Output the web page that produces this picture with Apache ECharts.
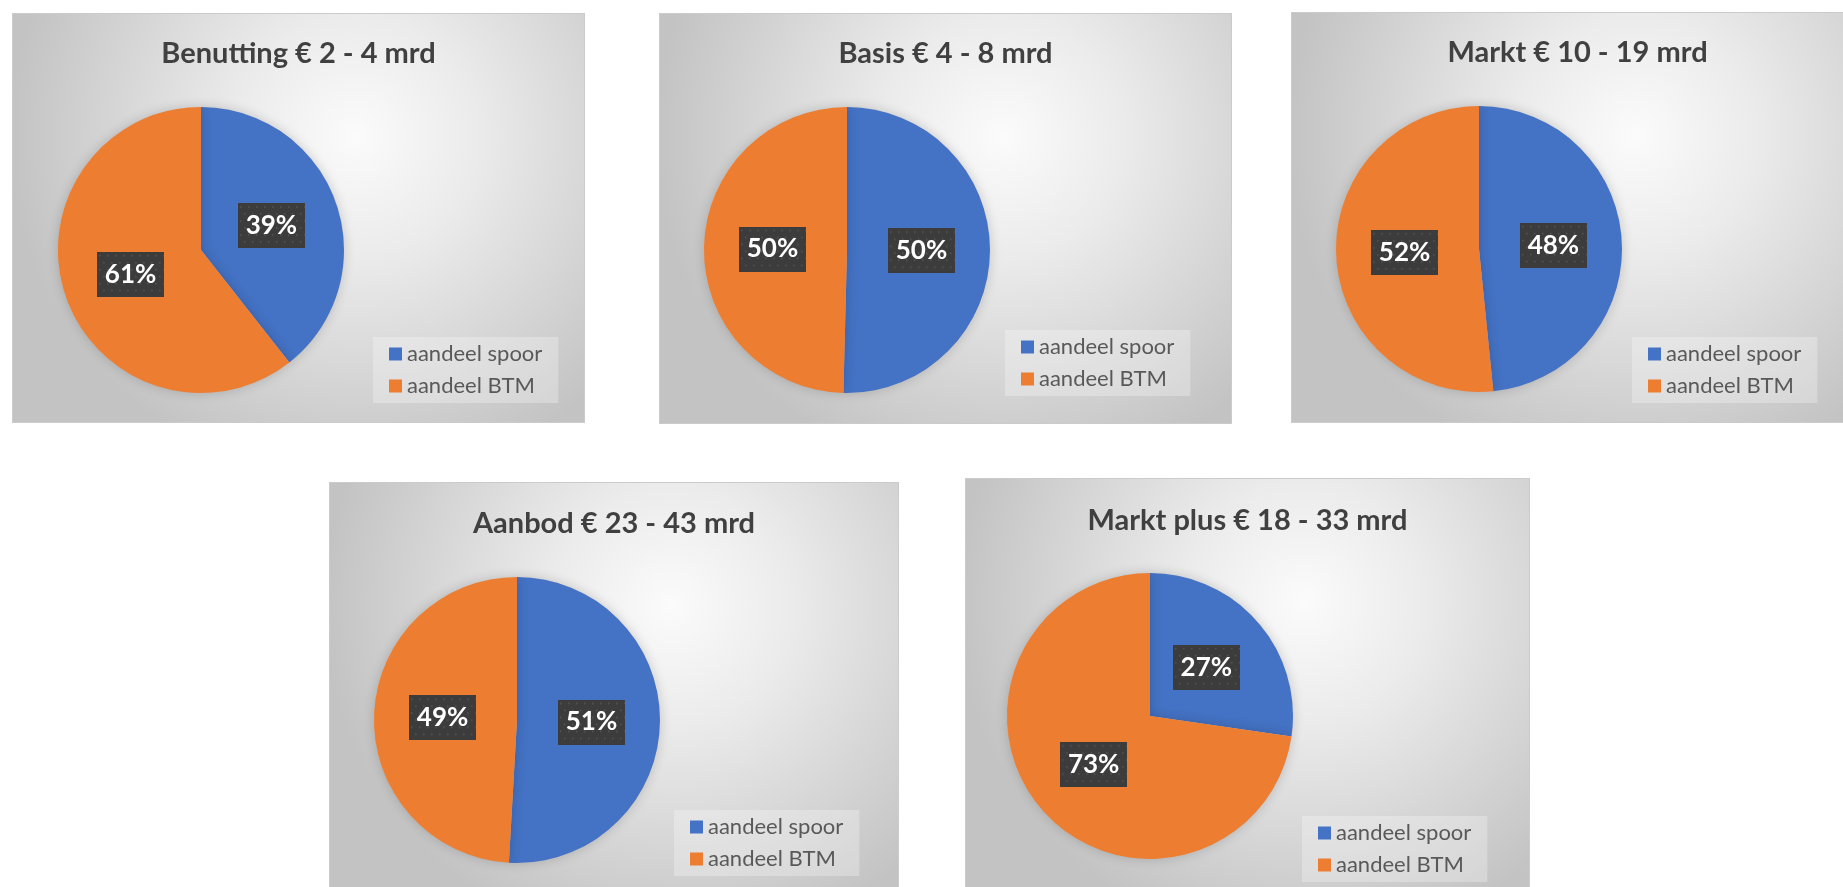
<!DOCTYPE html>
<html>
<head>
<meta charset="utf-8">
<script src="https://cdn.jsdelivr.net/npm/echarts@6/dist/echarts.min.js"></script>
<style>
  html, body { margin: 0; padding: 0; background: #fff; width: 1843px; height: 887px; overflow: hidden; position: relative; }
  .panel { position: absolute; border: 1px solid #cbcbcb; box-sizing: border-box; }
</style>
</head>
<body>
<script>
// data
const titles = ['Benutting € 2 - 4 mrd', 'Basis € 4 - 8 mrd', 'Markt € 10 - 19 mrd', 'Aanbod € 23 - 43 mrd', 'Markt plus € 18 - 33 mrd'];
const categories = ['aandeel spoor', 'aandeel BTM'];
const spoorShare = [39.4, 50.4, 48.4, 50.9, 27.3];
const btmShare = [60.6, 49.6, 51.6, 49.1, 72.7];

// panel layout (page pixels), pie centre + legend box relative to panel
const layout = [
  {left: 12,   top: 13,  w: 573, h: 410, cx: 188, cy: 236, lgLeft: 360, lgTop: 323, titleTop: 20},
  {left: 659,  top: 13,  w: 573, h: 411, cx: 187, cy: 236, lgLeft: 345, lgTop: 316, titleTop: 20},
  {left: 1291, top: 12,  w: 573, h: 411, cx: 187, cy: 236, lgLeft: 340, lgTop: 324, titleTop: 20},
  {left: 329,  top: 482, w: 570, h: 410, cx: 187, cy: 237, lgLeft: 344, lgTop: 327, titleTop: 21},
  {left: 965,  top: 478, w: 565, h: 410, cx: 184, cy: 237, lgLeft: 336, lgTop: 337, titleTop: 22}
];

const blue = '#4472C4';
const orange = '#ED7D31';
const font = 'Lato, "Open Sans", sans-serif';

// dotted dark box behind the data labels
function dotBox(w, h) {
  const c = document.createElement('canvas');
  c.width = w; c.height = h;
  const ctx = c.getContext('2d');
  ctx.fillStyle = '#3c3c3c';
  ctx.fillRect(0, 0, w, h);
  ctx.fillStyle = '#575757';
  for (let y = 3, row = 0; y < h; y += 7, row++) {
    for (let x = (row % 2 ? 6 : 2); x < w; x += 8) {
      ctx.fillRect(x, y, 1.5, 1.5);
    }
  }
  return c;
}
const labelBg = dotBox(67, 45);

function makePanel(i) {
  const p = layout[i];
  const el = document.createElement('div');
  el.className = 'panel';
  el.style.left = p.left + 'px';
  el.style.top = p.top + 'px';
  el.style.width = p.w + 'px';
  el.style.height = p.h + 'px';
  document.body.appendChild(el);

  const chart = echarts.init(el);
  chart.setOption({
    animation: false,
    backgroundColor: {
      type: 'radial', x: 0.6, y: 0.3, r: 0.85,
      colorStops: [
        {offset: 0, color: '#fbfbfb'},
        {offset: 0.35, color: '#ebebeb'},
        {offset: 1, color: '#c3c3c3'}
      ]
    },
    title: {
      text: titles[i],
      left: 'center',
      top: p.titleTop,
      textStyle: {fontFamily: font, fontWeight: 'bold', fontSize: 29, color: '#404040'}
    },
    legend: {
      orient: 'vertical',
      left: p.lgLeft,
      top: p.lgTop,
      data: categories,
      icon: 'rect',
      itemWidth: 13,
      itemHeight: 13,
      itemGap: 10,
      padding: [6, 16, 6, 16],
      backgroundColor: 'rgba(255,255,255,0.28)',
      textStyle: {fontFamily: font, fontSize: 22, color: '#595959'}
    },
    series: [{
      type: 'pie',
      radius: 143,
      center: [p.cx, p.cy],
      startAngle: 90,
      clockwise: true,
      percentPrecision: 0,
      silent: true,
      itemStyle: {shadowBlur: 12, shadowColor: 'rgba(0,0,0,0.18)'},
      label: {
        show: true,
        position: 'inside',
        formatter: '{d}%',
        fontFamily: font,
        fontWeight: 'bold',
        fontSize: 26,
        color: '#fff',
        width: 67,
        height: 45,
        lineHeight: 45,
        align: 'center',
        verticalAlign: 'middle',
        padding: 0,
        backgroundColor: {image: labelBg},
        shadowColor: 'rgba(0,0,0,0.55)',
        shadowBlur: 5,
        shadowOffsetX: 3,
        shadowOffsetY: 3
      },
      labelLine: {show: false},
      data: [
        {name: categories[0], value: spoorShare[i], itemStyle: {color: blue}},
        {name: categories[1], value: btmShare[i], itemStyle: {color: orange}}
      ]
    }]
  });
}

for (let i = 0; i < titles.length; i++) makePanel(i);
</script>
</body>
</html>
